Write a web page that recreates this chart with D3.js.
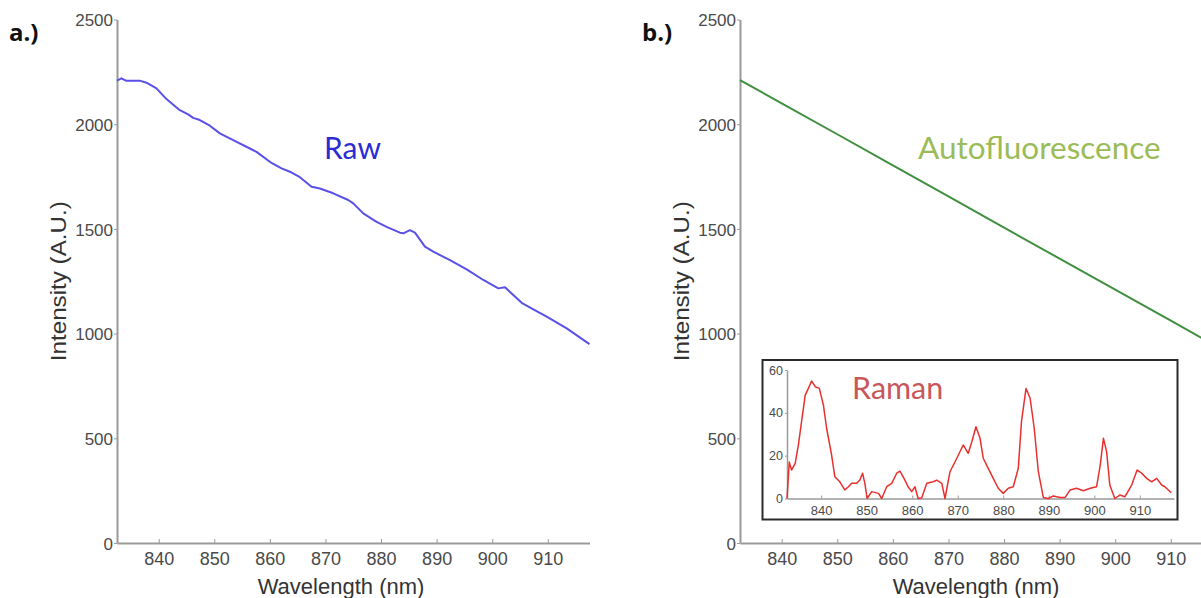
<!DOCTYPE html>
<html>
<head>
<meta charset="utf-8">
<script src="https://cdn.jsdelivr.net/npm/d3@7"></script>
<style>
  html, body { margin: 0; padding: 0; background: #fff; }
  svg { display: block; }
  .tick text { font-family: "Liberation Sans", Arial, sans-serif; fill: #4a4a4a; }
  .axis path, .axis line { stroke: #9a9a9a; }
</style>
</head>
<body>
<svg id="chart" width="1201" height="598"></svg>
<script>
// Shared tick values
const wavelengthTicks = [840, 850, 860, 870, 880, 890, 900, 910];
const intensityTicks = [0, 500, 1000, 1500, 2000, 2500];
const ramanTicks = [0, 20, 40, 60];

// Raw spectrum (panel a)
const rawWavelength = [832.5, 833.3, 834.2, 836.6, 837.8, 839.6, 841.4, 843.8, 845.3, 846.2,
  847.4, 849.2, 851.0, 853.4, 856.4, 857.6, 860.3, 862.1, 863.6, 865.4,
  867.5, 869.0, 871.4, 874.1, 875.0, 876.8, 879.2, 881.0, 883.4, 884.0,
  885.2, 886.1, 887.9, 889.4, 892.4, 895.4, 898.4, 901.1, 902.3, 903.5,
  905.3, 907.4, 909.8, 913.4, 917.5];
const rawIntensity = [2208, 2219, 2207, 2208, 2198, 2171, 2120, 2067, 2047, 2030,
  2020, 1993, 1956, 1924, 1884, 1868, 1815, 1789, 1773, 1747,
  1701, 1693, 1670, 1638, 1622, 1574, 1534, 1510, 1482, 1479,
  1494, 1482, 1415, 1391, 1351, 1307, 1256, 1216, 1221, 1192,
  1147, 1116, 1081, 1025, 950];

// Autofluorescence background (panel b)
const autoWavelength = [832.5, 840, 850, 860, 870, 880, 890, 900, 910, 917.5];
const autoIntensity = [2211, 2100, 1952, 1803, 1655, 1506, 1358, 1210, 1062, 950];

// Raman spectrum after background removal (inset)
const ramanWavelength = [832.5, 833.0, 833.5, 834.3, 835.0, 835.7, 836.5, 837.2, 837.9, 838.7,
  839.6, 840.5, 841.2, 842.3, 843.0, 844.1, 845.2, 846.0, 846.7, 847.8,
  848.5, 849.1, 849.6, 850.1, 851.1, 852.6, 853.3, 854.4, 855.5, 856.6,
  857.3, 858.2, 859.1, 859.9, 860.6, 861.3, 862.1, 863.2, 864.6, 865.4,
  866.5, 867.2, 868.3, 869.8, 871.2, 872.3, 873.1, 874.0, 874.9, 875.6,
  876.7, 877.8, 878.9, 880.0, 881.1, 882.2, 883.3, 884.0, 885.0, 885.9,
  886.8, 887.7, 888.8, 889.9, 891.0, 892.5, 893.6, 894.7, 896.1, 897.6,
  899.1, 900.5, 901.3, 902.0, 902.7, 903.4, 904.5, 905.6, 906.7, 908.2,
  909.4, 910.4, 911.5, 912.6, 913.7, 914.8, 915.5, 916.9];
const ramanIntensity = [0, 17, 13.3, 16.4, 25, 35.9, 48.3, 51.4, 54.9, 52.2,
  51.4, 43.6, 32.8, 20.3, 10.2, 7.8, 4.0, 5.5, 7.1, 7.1,
  8.6, 11.8, 7.1, 0, 3.2, 2.4, 0, 5.5, 7.1, 11.8,
  12.8, 9.4, 5.5, 3.2, 5.5, 0, 0.3, 7.1, 7.8, 8.6,
  7.1, 0, 12.5, 18.8, 25, 21.1, 26.5, 33.5, 28.1, 18.8,
  14.1, 9.4, 4.8, 2.4, 4.8, 5.5, 14.1, 35.9, 51.4, 46.8,
  32.8, 12.5, 0.5, 0, 1.2, 0.5, 0.5, 4.0, 4.8, 3.6,
  4.8, 5.5, 15.6, 28.1, 21.9, 6.3, 0, 1.6, 0.8, 6.3,
  13.3, 11.8, 9.4, 7.8, 9.4, 6.3, 5.5, 2.7];

const svg = d3.select("#chart");
const wlDomain = [832.5, 917.5];
const plotTop = 19.5, plotBottom = 543;
const plainFont = "'Liberation Sans', Arial, sans-serif";

function drawPanel(left, tag, tagX, xTitleCenter) {
  const x = d3.scaleLinear().domain(wlDomain).range([left, left + 472.5]);
  const y = d3.scaleLinear().domain([0, 2500]).range([plotBottom, plotTop]);

  const xAxis = svg.append("g").attr("class", "axis")
    .attr("transform", `translate(0,${plotBottom})`)
    .call(d3.axisBottom(x).tickValues(wavelengthTicks).tickFormat(d3.format("d"))
      .tickSizeInner(-4).tickSizeOuter(0).tickPadding(9));
  xAxis.selectAll("text").style("font-size", "18px");
  xAxis.select("path").attr("stroke-width", 2);

  const yAxis = svg.append("g").attr("class", "axis")
    .attr("transform", `translate(${left},0)`)
    .call(d3.axisLeft(y).tickValues(intensityTicks).tickFormat(d3.format("d"))
      .tickSizeInner(3).tickSizeOuter(0).tickPadding(1));
  yAxis.selectAll("text").style("font-size", "17px").attr("dy", "0.36em");
  yAxis.select("path").attr("stroke-width", 2);

  // Axis titles
  svg.append("text")
    .attr("transform", `translate(${left - 51},${(plotTop + plotBottom) / 2}) rotate(-90) scale(1.1,1)`)
    .attr("text-anchor", "middle")
    .style("font-family", plainFont)
    .style("font-size", "22px").style("fill", "#333")
    .text("Intensity (A.U.)");

  svg.append("text")
    .attr("x", xTitleCenter).attr("y", 594)
    .attr("text-anchor", "middle")
    .style("font-family", plainFont)
    .style("font-size", "22px").style("fill", "#333")
    .text("Wavelength (nm)");

  // Panel tag
  svg.append("text")
    .attr("x", tagX).attr("y", 41)
    .style("font-family", "'Open Sans', sans-serif")
    .style("font-weight", "700").style("font-size", "24px").style("fill", "#111")
    .text(tag);

  return { x, y };
}

// Panel a: raw spectrum
const a = drawPanel(117, "a.)", 9, 341);
svg.append("path")
  .datum(d3.range(rawWavelength.length))
  .attr("fill", "none").attr("stroke", "#5a50e8").attr("stroke-width", 2)
  .attr("stroke-linejoin", "round")
  .attr("d", d3.line().x(i => a.x(rawWavelength[i])).y(i => a.y(rawIntensity[i])));
svg.append("text").attr("x", 324).attr("y", 159)
  .style("font-family", "Lato, sans-serif").style("font-size", "30px").style("fill", "#2b2bd3")
  .text("Raw");

// Panel b: autofluorescence with Raman inset
const b = drawPanel(740, "b.)", 642, 976);
svg.append("path")
  .datum(d3.range(autoWavelength.length))
  .attr("fill", "none").attr("stroke", "#3f8f3f").attr("stroke-width", 2)
  .attr("d", d3.line().x(i => b.x(autoWavelength[i])).y(i => b.y(autoIntensity[i])));
svg.append("text").attr("x", 918).attr("y", 159)
  .style("font-family", "Lato, sans-serif").style("font-size", "31.5px").style("fill", "#9bbb59")
  .text("Autofluorescence");

// Inset frame
svg.append("rect")
  .attr("x", 762.5).attr("y", 360).attr("width", 415).attr("height", 159.5)
  .attr("fill", "#fff").attr("stroke", "#2a2a2a").attr("stroke-width", 2);

const ix = d3.scaleLinear().domain(wlDomain).range([787, 1174]);
const iy = d3.scaleLinear().domain([0, 60]).range([498.5, 370]);

const ixAxis = svg.append("g").attr("class", "axis")
  .attr("transform", "translate(0,498.5)")
  .call(d3.axisBottom(ix).tickValues(wavelengthTicks).tickFormat(d3.format("d"))
    .tickSizeInner(-3).tickSizeOuter(0).tickPadding(7));
ixAxis.selectAll("text").style("font-size", "13px");
const iyAxis = svg.append("g").attr("class", "axis")
  .attr("transform", "translate(787,0)")
  .call(d3.axisLeft(iy).tickValues(ramanTicks).tickFormat(d3.format("d"))
    .tickSizeInner(2).tickSizeOuter(0).tickPadding(2));
iyAxis.selectAll("text").style("font-size", "12.5px");
ixAxis.select("path").attr("stroke-width", 1.5);
iyAxis.select("path").attr("stroke-width", 1.5);

svg.append("path")
  .datum(d3.range(ramanWavelength.length))
  .attr("fill", "none").attr("stroke", "#e8302e").attr("stroke-width", 1.5)
  .attr("stroke-linejoin", "round")
  .attr("d", d3.line().x(i => ix(ramanWavelength[i])).y(i => iy(ramanIntensity[i])));
svg.append("text").attr("x", 852).attr("y", 399)
  .style("font-family", "Lato, sans-serif").style("font-size", "30.5px").style("fill", "#c8575a")
  .text("Raman");
</script>
</body>
</html>
